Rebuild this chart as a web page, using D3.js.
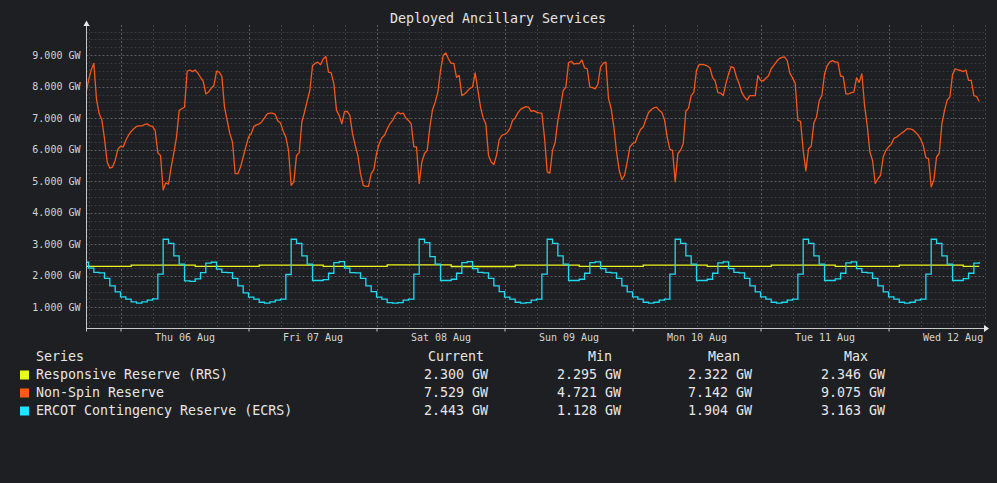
<!DOCTYPE html>
<html><head><meta charset="utf-8">
<script src="https://cdn.jsdelivr.net/npm/d3@7"></script>
<style>
html,body{margin:0;padding:0;background:#1e1f22;}
svg{display:block;font-family:"DejaVu Sans Mono",monospace;}
</style></head><body>
<svg id="chart" width="997" height="483"></svg>
<script>
const chartTitle = "Deployed Ancillary Services";
// first sample at Wed 05 Aug 17:00
const firstSample = new Date(2026, 7, 5, 17, 0, 0);
const viewStart = new Date(2026, 7, 5, 17, 37, 30);
const viewEnd = new Date(2026, 7, 12, 18, 5, 0);

const seriesNames = ["Responsive Reserve (RRS)", "Non-Spin Reserve", "ERCOT Contingency Reserve (ECRS)"];
const seriesColors = ["#e8ff1c", "#ff5a1a", "#1fe3ff"];
const lineColors = ["#eef51c", "#f5571a", "#22d9f2"];

// Non-Spin: half-hourly samples (GW)
const nonSpin = [
  7.77,7.77,8.20,8.53,8.74,7.60,7.14,6.95,6.35,5.61,5.42,5.45,5.66,6.01,6.11,6.09,6.30,6.46,6.58,6.67,6.74,6.76,6.76,6.80,
  6.82,6.76,6.74,6.61,5.90,5.82,4.72,4.95,4.91,5.45,5.90,6.40,7.25,7.30,7.35,8.49,8.53,8.48,8.53,8.43,8.30,8.18,7.77,7.83,
  7.95,8.03,8.49,8.46,8.33,7.35,6.93,6.51,6.24,5.24,5.24,5.45,5.77,6.09,6.40,6.51,6.74,6.79,6.82,6.89,7.01,7.14,7.16,7.16,
  7.12,6.91,6.85,6.59,6.40,5.98,4.87,4.98,5.82,5.90,6.88,7.19,7.55,7.88,8.67,8.74,8.78,8.70,8.88,8.96,8.46,8.44,8.10,7.25,
  7.09,6.82,7.21,7.22,7.09,6.51,6.14,5.82,5.24,4.87,4.84,4.84,5.24,5.37,5.88,6.19,6.38,6.46,6.66,6.82,6.93,7.09,7.19,7.14,
  7.16,7.01,6.93,6.82,6.09,6.09,4.93,5.61,5.88,5.98,6.72,7.27,7.51,7.83,8.51,8.99,9.07,8.88,8.74,8.74,8.30,8.36,7.72,7.77,
  7.85,7.95,7.99,8.44,7.90,7.35,7.01,6.82,5.82,5.61,5.53,5.82,6.32,6.46,6.49,6.54,6.67,6.93,7.01,7.17,7.28,7.33,7.37,7.35,
  7.22,7.24,7.19,7.17,7.16,6.38,5.30,5.26,5.98,6.24,6.93,7.37,7.88,7.99,8.76,8.81,8.72,8.74,8.73,8.85,8.60,8.57,7.99,7.97,
  7.93,8.07,8.62,8.74,8.78,7.62,7.30,6.72,5.93,5.35,5.05,5.19,5.61,6.09,6.19,6.23,6.46,6.64,6.72,6.96,7.18,7.27,7.33,7.35,
  7.25,7.18,6.95,6.40,6.01,5.98,4.98,5.88,5.98,6.19,7.23,7.32,7.72,7.83,8.53,8.70,8.71,8.69,8.66,8.60,8.30,8.18,7.81,7.80,
  7.72,8.09,8.41,8.64,8.60,8.30,8.09,7.81,7.67,7.58,7.72,7.72,7.72,8.35,8.20,8.18,8.27,8.35,8.57,8.68,8.80,8.89,8.93,8.95,
  8.83,8.43,8.28,8.11,6.93,6.90,5.98,5.33,6.03,6.11,6.85,7.04,7.56,7.72,8.41,8.67,8.79,8.83,8.78,8.78,8.34,8.32,7.77,7.77,
  7.81,7.83,8.28,8.14,8.41,7.41,6.77,5.93,5.66,4.93,5.08,5.19,5.77,5.98,6.09,6.17,6.36,6.40,6.47,6.53,6.59,6.67,6.66,6.64,
  6.56,6.48,6.34,6.14,5.75,5.72,4.82,5.05,5.77,5.88,6.82,7.25,7.58,7.67,8.39,8.57,8.53,8.52,8.48,8.53,8.20,8.20,7.72,7.69,
  7.53
];

// ECRS: hourly samples (GW)
const ecrs = [
  2.43,2.24,2.11,2.09,1.92,1.68,1.49,1.33,1.26,1.17,1.13,1.17,1.23,1.27,2.05,3.16,3.03,2.63,2.37,1.84,1.82,1.90,2.10,2.40,
  2.43,2.21,2.11,2.10,1.92,1.68,1.46,1.32,1.26,1.16,1.13,1.17,1.23,1.26,2.04,3.16,3.03,2.63,2.37,1.85,1.85,1.88,2.08,2.42,
  2.45,2.24,2.10,2.09,1.92,1.68,1.50,1.32,1.26,1.15,1.13,1.15,1.23,1.26,2.05,3.16,3.05,2.61,2.37,1.85,1.85,1.89,2.08,2.42,
  2.45,2.23,2.11,2.09,1.92,1.68,1.50,1.32,1.26,1.16,1.13,1.15,1.23,1.26,2.05,3.16,3.03,2.63,2.37,1.85,1.85,1.89,2.08,2.42,
  2.44,2.23,2.11,2.09,1.92,1.68,1.49,1.33,1.26,1.16,1.13,1.16,1.23,1.26,2.05,3.16,3.03,2.63,2.37,1.85,1.85,1.89,2.08,2.41,
  2.44,2.23,2.11,2.09,1.92,1.68,1.49,1.33,1.26,1.16,1.13,1.16,1.23,1.26,2.05,3.16,3.03,2.63,2.37,1.85,1.85,1.90,2.08,2.41,
  2.44,2.23,2.11,2.09,1.92,1.68,1.49,1.33,1.26,1.16,1.13,1.16,1.23,1.26,2.05,3.16,3.03,2.63,2.37,1.85,1.85,1.91,2.08,2.40,
  2.44
];

// RRS: hourly samples (GW)
const rrs = [
  2.30,2.30,2.30,2.30,2.30,2.30,2.30,2.30,2.30,2.34,2.34,2.34,2.34,2.34,2.34,2.34,2.34,2.34,2.34,2.34,2.34,2.30,2.30,2.30,
  2.30,2.30,2.30,2.30,2.30,2.30,2.30,2.30,2.30,2.34,2.34,2.34,2.34,2.34,2.34,2.34,2.34,2.34,2.34,2.34,2.34,2.30,2.30,2.30,
  2.30,2.30,2.30,2.30,2.30,2.30,2.30,2.30,2.30,2.346,2.346,2.346,2.346,2.346,2.346,2.346,2.346,2.346,2.346,2.346,2.346,2.295,2.295,2.295,
  2.295,2.295,2.295,2.295,2.295,2.295,2.295,2.295,2.295,2.34,2.34,2.34,2.34,2.34,2.34,2.34,2.34,2.34,2.34,2.34,2.34,2.30,2.30,2.30,
  2.30,2.30,2.30,2.30,2.30,2.30,2.30,2.30,2.30,2.34,2.34,2.34,2.34,2.34,2.34,2.34,2.34,2.34,2.34,2.34,2.34,2.30,2.30,2.30,
  2.30,2.30,2.30,2.30,2.30,2.30,2.30,2.30,2.30,2.34,2.34,2.34,2.34,2.34,2.34,2.34,2.34,2.34,2.34,2.34,2.34,2.30,2.30,2.30,
  2.30,2.30,2.30,2.30,2.30,2.30,2.30,2.30,2.30,2.34,2.34,2.34,2.34,2.34,2.34,2.34,2.34,2.34,2.34,2.34,2.34,2.30,2.30,2.30,
  2.30
];

const yTickValues = [1, 2, 3, 4, 5, 6, 7, 8, 9];
const dayLabels = ["Thu 06 Aug", "Fri 07 Aug", "Sat 08 Aug", "Sun 09 Aug", "Mon 10 Aug", "Tue 11 Aug", "Wed 12 Aug"];
const statHeaders = ["Current", "Min", "Mean", "Max"];
const statsRRS = ["2.300 GW", "2.295 GW", "2.322 GW", "2.346 GW"];
const statsNonSpin = ["7.529 GW", "4.721 GW", "7.142 GW", "9.075 GW"];
const statsECRS = ["2.443 GW", "1.128 GW", "1.904 GW", "3.163 GW"];

// ---------- layout ----------
const svg = d3.select("#chart");
const W = 997, H = 483;
const left = 86.5, right = 985, axisY = 328.5, plotTop = 25;

const x = d3.scaleTime().domain([viewStart, viewEnd]).range([left, right]);
const y = d3.scaleLinear().domain([0, 10]).range([338.8, 23.7]);

svg.append("rect").attr("width", W).attr("height", H).attr("fill", "#1e1f22");

// title
svg.append("text").attr("x", 498).attr("y", 23).attr("text-anchor", "middle")
  .attr("font-size", "13.3px").attr("fill", "#e4e4e4").text(chartTitle);

// grid
const grid = svg.append("g");
const minorY = d3.range(0.5, 9.9, 0.25).filter(v => Math.abs(v - Math.round(v)) > 0.01);
grid.selectAll("line.ymin").data(minorY).join("line")
  .attr("x1", left).attr("x2", right - 1).attr("y1", d => Math.round(y(d)) + 0.5).attr("y2", d => Math.round(y(d)) + 0.5)
  .attr("stroke", "#38393c").attr("stroke-dasharray", "2,2");
const sixHours = d3.timeHour.every(6).range(viewStart, viewEnd);
grid.selectAll("line.xmin").data(sixHours.filter(d => d.getHours() !== 0)).join("line")
  .attr("x1", d => Math.round(x(d)) + 0.5).attr("x2", d => Math.round(x(d)) + 0.5)
  .attr("y1", plotTop).attr("y2", axisY)
  .attr("stroke", "#3e3f42").attr("stroke-dasharray", "2,2");
grid.selectAll("line.ymaj").data(yTickValues).join("line")
  .attr("x1", left).attr("x2", right - 1).attr("y1", d => Math.round(y(d)) + 0.5).attr("y2", d => Math.round(y(d)) + 0.5)
  .attr("stroke", "#5a5b5e").attr("stroke-dasharray", "2,2");
const midnights = d3.timeDay.range(viewStart, viewEnd);
grid.selectAll("line.xmaj").data(midnights).join("line")
  .attr("x1", d => Math.round(x(d)) + 0.5).attr("x2", d => Math.round(x(d)) + 0.5)
  .attr("y1", plotTop).attr("y2", axisY)
  .attr("stroke", "#5e5f62").attr("stroke-dasharray", "2,2");

// series lines
svg.append("clipPath").attr("id", "clip").append("rect")
  .attr("x", left + 0.5).attr("y", 0).attr("width", right - left).attr("height", axisY);
const tHour = i => new Date(firstSample.getTime() + i * 3600e3);
const tHalf = i => new Date(firstSample.getTime() + i * 1800e3);
const linesG = svg.append("g").attr("clip-path", "url(#clip)");
const stepLine = d3.line().x((d, i) => x(tHour(i))).y(d => y(d)).curve(d3.curveStepAfter);
const halfLine = d3.line().x((d, i) => x(tHalf(i))).y(d => y(d));
linesG.append("path").datum(rrs).attr("d", stepLine).attr("fill", "none")
  .attr("stroke", lineColors[0]).attr("stroke-width", 1.3);
linesG.append("path").datum(nonSpin).attr("d", halfLine).attr("fill", "none")
  .attr("stroke", lineColors[1]).attr("stroke-width", 1.3).attr("stroke-linejoin", "round");
linesG.append("path").datum(ecrs).attr("d", stepLine).attr("fill", "none")
  .attr("stroke", lineColors[2]).attr("stroke-width", 1.3);

// axes
const axisColor = "#c9c9c9";
const yAxis = d3.axisLeft(y).tickValues(yTickValues).tickSize(0).tickPadding(6)
  .tickFormat(d => d3.format(".3f")(d) + " GW");
const gy = svg.append("g").attr("transform", `translate(${left},0)`).call(yAxis);
gy.select(".domain").remove();
gy.selectAll("text").attr("font-family", "DejaVu Sans Mono, monospace").attr("font-size", "10px").attr("fill", "#d4d4d4");

const noons = midnights.map(d => d3.timeHour.offset(d, 12));
const xAxis = d3.axisBottom(x).tickValues(noons).tickSize(0).tickPadding(5)
  .tickFormat((d, i) => dayLabels[i]);
const gx = svg.append("g").attr("transform", `translate(0,${axisY})`).call(xAxis);
gx.select(".domain").remove();
gx.selectAll("text").attr("font-family", "DejaVu Sans Mono, monospace").attr("font-size", "10px").attr("fill", "#d4d4d4");

const xTicks = d3.axisBottom(x).tickValues(midnights).tickSize(3).tickFormat("");
const gxt = svg.append("g").attr("transform", `translate(0,${axisY})`).call(xTicks);
gxt.select(".domain").remove();
gxt.selectAll("line").attr("stroke", axisColor);

svg.append("line").attr("x1", left).attr("x2", right).attr("y1", axisY).attr("y2", axisY)
  .attr("stroke", axisColor).attr("stroke-width", 1);
svg.append("line").attr("x1", left).attr("x2", left).attr("y1", axisY + 3).attr("y2", 24)
  .attr("stroke", axisColor).attr("stroke-width", 1);
svg.append("path").attr("d", `M${right - 1},${axisY - 3.5} L${right + 4},${axisY} L${right - 1},${axisY + 3.5} Z`).attr("fill", "#e8e8e8");
svg.append("path").attr("d", `M${left - 3},${26} L${left},${20.5} L${left + 3},${26} Z`).attr("fill", "#e8e8e8");

// legend
const legend = svg.append("g").attr("font-size", "13.3px").attr("fill", "#e6e6e6");
const colX = [428, 588, 708, 844];
const valX = [424, 557, 688, 821];
legend.append("text").attr("x", 36).attr("y", 361).text("Series");
statHeaders.forEach((h, i) => legend.append("text").attr("x", colX[i]).attr("y", 361).text(h));
const statRows = [statsRRS, statsNonSpin, statsECRS];
seriesNames.forEach((name, r) => {
  const by = 379 + r * 18;
  legend.append("rect").attr("x", 20).attr("y", by - 8.5).attr("width", 9).attr("height", 9).attr("fill", seriesColors[r]);
  legend.append("text").attr("x", 36).attr("y", by).text(name);
  statRows[r].forEach((v, i) => legend.append("text").attr("x", valX[i]).attr("y", by).text(v));
});
</script>
</body></html>
